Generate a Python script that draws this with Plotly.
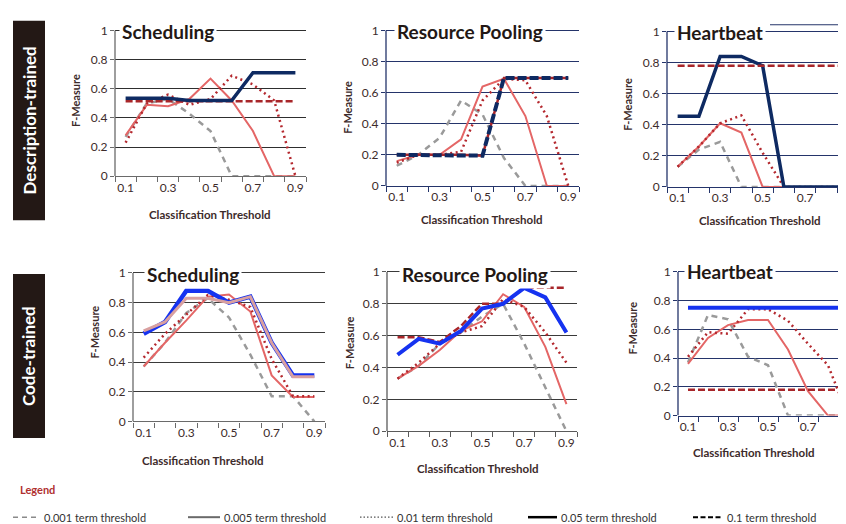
import plotly.graph_objects as go

# ---------------- data ----------------
thresholds = [0.1, 0.2, 0.3, 0.4, 0.5, 0.6, 0.7, 0.8, 0.9]
x_tick_vals = [0.1, 0.3, 0.5, 0.7, 0.9]
x_tick_text = ["0.1", "0.3", "0.5", "0.7", "0.9"]
y_tick_vals = [0, 0.2, 0.4, 0.6, 0.8, 1]
y_tick_text = ["0", "0.2", "0.4", "0.6", "0.8", "1"]

# Description-trained, Scheduling
ds_001 = [0.27, 0.50, 0.53, 0.43, 0.31, 0.00, 0.00, 0.00, 0.00]
ds_005 = [0.28, 0.49, 0.48, 0.53, 0.67, 0.52, 0.31, 0.00, 0.00]
ds_01 = [0.23, 0.50, 0.56, 0.49, 0.53, 0.69, 0.63, 0.52, 0.00]
ds_05 = [0.535, 0.535, 0.535, 0.52, 0.52, 0.52, 0.71, 0.71, 0.71]
ds_1 = [0.515, 0.515, 0.515, 0.515, 0.515, 0.515, 0.515, 0.515, 0.515]

# Description-trained, Resource Pooling
dr_001 = [0.13, 0.20, 0.31, 0.55, 0.46, 0.18, 0.00, 0.00, 0.00]
dr_005 = [0.16, 0.20, 0.20, 0.30, 0.64, 0.69, 0.45, 0.00, 0.00]
dr_01 = [0.15, 0.20, 0.20, 0.22, 0.55, 0.69, 0.68, 0.45, 0.00]
dr_05 = [0.20, 0.20, 0.20, 0.20, 0.195, 0.695, 0.695, 0.695, 0.695]
dr_1 = [0.20, 0.20, 0.20, 0.20, 0.195, 0.695, 0.695, 0.695, 0.695]

# Description-trained, Heartbeat
dh_001 = [0.13, 0.24, 0.29, 0.00, 0.00, 0.00, 0.00, 0.00, 0.00]
dh_005 = [0.13, 0.26, 0.41, 0.35, 0.00, 0.00, 0.00, 0.00, 0.00]
dh_01 = [0.13, 0.26, 0.41, 0.46, 0.22, 0.00, 0.00, 0.00, 0.00]
dh_05 = [0.455, 0.455, 0.84, 0.84, 0.78, 0.00, 0.00, 0.00, 0.00]
dh_1 = [0.78, 0.78, 0.78, 0.78, 0.78, 0.78, 0.78, 0.78, 0.78]

# Code-trained, Scheduling
cs_001 = [0.37, 0.53, 0.73, 0.83, 0.70, 0.45, 0.17, 0.17, 0.00]
cs_005 = [0.37, 0.53, 0.68, 0.84, 0.855, 0.74, 0.31, 0.165, 0.165]
cs_01 = [0.43, 0.59, 0.72, 0.85, 0.82, 0.77, 0.42, 0.17, 0.17]
cs_05 = [0.59, 0.67, 0.88, 0.88, 0.80, 0.84, 0.53, 0.31, 0.31]
cs_1 = [0.61, 0.67, 0.83, 0.83, 0.80, 0.84, 0.53, 0.30, 0.30]

# Code-trained, Resource Pooling
cr_001 = [0.33, 0.41, 0.55, 0.62, 0.72, 0.80, 0.55, 0.27, 0.00]
cr_005 = [0.33, 0.41, 0.51, 0.63, 0.69, 0.86, 0.78, 0.53, 0.17]
cr_01 = [0.33, 0.43, 0.55, 0.62, 0.66, 0.83, 0.78, 0.62, 0.43]
cr_05 = [0.48, 0.58, 0.55, 0.63, 0.77, 0.80, 0.90, 0.84, 0.62]
cr_1 = [0.59, 0.59, 0.56, 0.66, 0.80, 0.80, 0.90, 0.90, 0.90]

# Code-trained, Heartbeat
ch_001 = [0.37, 0.70, 0.67, 0.41, 0.35, 0.00, 0.00, 0.00, 0.00]
ch_005 = [0.36, 0.54, 0.63, 0.665, 0.665, 0.46, 0.17, 0.00, 0.00]
ch_01 = [0.41, 0.58, 0.57, 0.74, 0.74, 0.66, 0.50, 0.35, 0.00]
ch_05 = [0.75, 0.75, 0.75, 0.75, 0.75, 0.75, 0.75, 0.75, 0.75]
ch_1 = [0.18, 0.18, 0.18, 0.18, 0.18, 0.18, 0.18, 0.18, 0.18]

panel_titles = ["Scheduling", "Resource Pooling", "Heartbeat",
                "Scheduling", "Resource Pooling", "Heartbeat"]
row_labels = ["Description-trained", "Code-trained"]
legend_labels = ["0.001 term threshold", "0.005 term threshold", "0.01 term threshold",
                 "0.05 term threshold", "0.1 term threshold"]

# ---------------- styles ----------------
W, H = 846, 524
FONT = "Lato"
GRAY = "#9a9a9a"
SALMON = "#E46666"
DOTRED = "#B4282E"
NAVY = "#0E2A62"
BLUE = "#1633F0"
DASHRED = "#A8262A"
PINK = "#D9A0A0"
TICKC = "#3d2b2b"
YTOP = 1.02


def fx(p):
    return p / W


def fy(p):
    return 1 - p / H


s_gray = dict(color=GRAY, width=2.5, dash="6px,5px")
s_salmon = dict(color=SALMON, width=2)
s_dot = dict(color=DOTRED, width=2.5, dash="2px,3.5px")
s_navy = dict(color=NAVY, width=3.5)
s_navy_dash = dict(color=NAVY, width=4, dash="9px,3px")
s_red_dash = dict(color=DASHRED, width=2.5, dash="7px,3px")
s_red_dash_under = dict(color=DASHRED, width=2.5)
s_blue = dict(color=BLUE, width=4)
s_blue_thin = dict(color=BLUE, width=4.5)
s_pink = dict(color=PINK, width=3)

panels = [
    dict(px=(107, 298), py=(18, 167), xr=[0.05, 0.95], grid="#2e2e2e", axis="#6a6a6a",
         tx=160, ty=19, xl=(202, 206), yl=(68, 90),
         series=[(ds_001, s_gray), (ds_005, s_salmon), (ds_01, s_dot), (ds_1, s_red_dash), (ds_05, s_navy)]),
    dict(px=(378, 571), py=(18, 177), xr=[0.05, 0.95], grid="#24346a", axis="#24346a",
         tx=462, ty=19, xl=(474, 211), yl=(340, 97),
         series=[(dr_001, s_gray), (dr_005, s_salmon), (dr_01, s_dot), (dr_1, s_red_dash_under), (dr_05, s_navy_dash)]),
    dict(px=(659, 846), py=(19, 178), xr=[0.05, 0.93], grid="#24346a", axis="#24346a",
         tx=712, ty=20, xl=(752, 212), yl=(620, 94),
         series=[(dh_001, s_gray), (dh_005, s_salmon), (dh_01, s_dot), (dh_05, s_navy), (dh_1, s_red_dash)]),
    dict(px=(125, 317), py=(266, 418), xr=[0.05, 0.95], grid="#3a3a3a", axis="#6a6a6a",
         tx=185, ty=268, xl=(195, 458), yl=(87, 327),
         series=[(cs_001, s_gray), (cs_005, s_salmon), (cs_01, s_dot), (cs_05, s_blue_thin), (cs_1, s_pink)]),
    dict(px=(379, 569), py=(265, 428), xr=[0.05, 0.95], grid="#3a3a3a", axis="#5a5a5a",
         tx=467, ty=268, xl=(470, 466), yl=(341, 338),
         series=[(cr_001, s_gray), (cr_005, s_salmon), (cr_01, s_dot), (cr_1, s_red_dash), (cr_05, s_blue)]),
    dict(px=(670, 846), py=(265, 412), xr=[0.05, 0.93], grid="#24346a", axis="#24346a",
         tx=722, ty=265, xl=(746, 450), yl=(625, 323),
         series=[(ch_001, s_gray), (ch_005, s_salmon), (ch_01, s_dot), (ch_05, s_blue), (ch_1, s_red_dash)]),
]

fig = go.Figure()
layout = dict(
    width=W, height=H, margin=dict(l=0, r=0, t=0, b=0),
    paper_bgcolor="white", plot_bgcolor="white", showlegend=False,
    font=dict(family=FONT, color=TICKC),
)
annotations = []
shapes = []

for i, p in enumerate(panels):
    k = "" if i == 0 else str(i + 1)
    xa = "x" + k
    ya = "y" + k
    for vals, style in p["series"]:
        fig.add_trace(go.Scatter(x=thresholds, y=vals, mode="lines", line=style,
                                 xaxis=xa, yaxis=ya, hoverinfo="skip"))
    y_one, y_zero = p["py"]
    y_top_px = y_one - (YTOP - 1) * (y_zero - y_one)
    layout["xaxis" + k] = dict(
        domain=[fx(p["px"][0]), fx(p["px"][1])], anchor=ya, range=p["xr"],
        tickmode="array", tickvals=x_tick_vals, ticktext=x_tick_text, ticks="",
        showgrid=False, zeroline=False, showline=True, linecolor=p["axis"], linewidth=1.3,
        tickfont=dict(size=12, family=FONT, color=TICKC),
        minor=dict(tickmode="linear", tick0=0.05, dtick=0.1, ticks="outside", ticklen=5,
                   tickcolor=p["axis"], tickwidth=1.3, showgrid=False),
    )
    layout["yaxis" + k] = dict(
        domain=[fy(y_zero), fy(y_top_px)], anchor=xa, range=[0, YTOP],
        tickmode="array", tickvals=y_tick_vals, ticktext=y_tick_text,
        ticks="outside", ticklen=4, tickcolor=p["axis"], tickwidth=1.3,
        showgrid=True, gridcolor=p["grid"], gridwidth=1.1, zeroline=False,
        showline=False,
        tickfont=dict(size=12, family=FONT, color=TICKC),
    )
    # left axis line from 0 to 1
    shapes.append(dict(type="line", xref=xa + " domain", yref=ya,
                       x0=0, x1=0, y0=0, y1=1, line=dict(color=p["axis"], width=1.3)))
    annotations.append(dict(
        text="<b>%s</b>" % panel_titles[i], x=fx(p["tx"]), y=fy(p["ty"]),
        xref="paper", yref="paper", xanchor="center", yanchor="middle", showarrow=False,
        font=dict(size=19, family=FONT, color="#231815"), bgcolor="white", borderpad=2,
    ))
    annotations.append(dict(
        text="<b>Classification Threshold</b>", x=fx(p["xl"][0]), y=fy(p["xl"][1]),
        xref="paper", yref="paper", xanchor="center", yanchor="middle", showarrow=False,
        font=dict(size=11.5, family=FONT, color="#3d2b2b"),
    ))
    annotations.append(dict(
        text="<b>F-Measure</b>", x=fx(p["yl"][0]), y=fy(p["yl"][1]),
        xref="paper", yref="paper", xanchor="center", yanchor="middle", showarrow=False,
        textangle=-90, font=dict(size=11, family=FONT, color="#3d2b2b"),
    ))

# decorative border line above the top-right panel
shapes.append(dict(type="line", xref="paper", yref="paper", x0=fx(762), x1=1,
                   y0=fy(12), y1=fy(12), line=dict(color="#24346a", width=1.2)))

# row labels
for (label, (y0, y1)) in zip(row_labels, [(8, 212), (267, 435)]):
    shapes.append(dict(type="rect", xref="paper", yref="paper",
                       x0=fx(5), x1=fx(37), y0=fy(y1), y1=fy(y0),
                       fillcolor="#231815", line=dict(width=0), layer="below"))
    annotations.append(dict(
        text="<b>%s</b>" % label, x=fx(21), y=fy((y0 + y1) / 2),
        xref="paper", yref="paper", xanchor="center", yanchor="middle", showarrow=False,
        textangle=-90, font=dict(size=17, family=FONT, color="white"),
    ))

# legend
annotations.append(dict(
    text="<b>Legend</b>", x=fx(10), y=fy(488), xref="paper", yref="paper",
    xanchor="left", yanchor="middle", showarrow=False,
    font=dict(size=11, family=FONT, color="#B03030"),
))
legend_samples = [
    ((5, 32), dict(color="#8a8a8a", width=1.5, dash="5px,4px")),
    ((180, 212), dict(color="#6a6a6a", width=2)),
    ((352, 385), dict(color="#555555", width=1.2, dash="1.5px,2px")),
    ((520, 549), dict(color="black", width=2.5)),
    ((685, 715), dict(color="black", width=2, dash="5px,2.5px")),
]
for (xs, st), lab in zip(legend_samples, legend_labels):
    shapes.append(dict(type="line", xref="paper", yref="paper",
                       x0=fx(xs[0]), x1=fx(xs[1]), y0=fy(516), y1=fy(516), line=st))
    annotations.append(dict(
        text=lab, x=fx(xs[1] + 2), y=fy(516), xref="paper", yref="paper",
        xanchor="left", yanchor="middle", showarrow=False,
        font=dict(size=11, family=FONT, color="#333333"),
    ))

layout["annotations"] = annotations
layout["shapes"] = shapes
fig.update_layout(**layout)
fig.write_html("out.html")
